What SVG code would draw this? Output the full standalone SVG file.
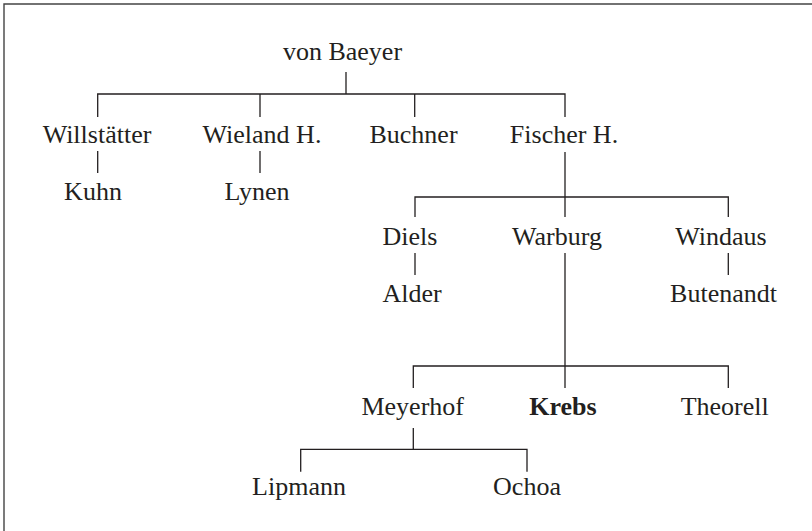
<svg xmlns="http://www.w3.org/2000/svg" width="812" height="531" viewBox="0 0 812 531">
<style>
text{font-family:"Liberation Serif","Times New Roman",serif;font-size:26px;fill:#231f20;text-anchor:middle}
.b{font-weight:bold}
.c path{fill:none;stroke:#231f20;stroke-width:1.3}
.frame{fill:none;stroke:#444;stroke-width:1.4}
</style>
<rect width="812" height="531" fill="#fff"/>
<path class="frame" d="M4,531 V4 H812"/>
<g class="c" id="connectors">
<path d="M346,72 V94"/>
<path d="M97.7,117 V94 H565 V117"/>
<path d="M260,94 V117"/>
<path d="M414.7,94 V117"/>
<path d="M97.7,151 V173"/>
<path d="M260,151 V173"/>
<path d="M565,152 V217"/>
<path d="M415,217 V197 H728.3 V217"/>
<path d="M415,253 V275"/>
<path d="M728.3,253 V275"/>
<path d="M565,253 V388"/>
<path d="M413.3,388 V366 H728.3 V388"/>
<path d="M413.3,428 V449.3"/>
<path d="M300.7,471.7 V449.3 H527 V471.7"/>
</g>
<g id="vonBaeyer"><text x="342.5" y="60">von Baeyer</text></g>
<g id="Willstaetter"><text x="97" y="143">Willstätter</text></g>
<g id="Wieland"><text x="262" y="143">Wieland H.</text></g>
<g id="Buchner"><text x="413.5" y="143">Buchner</text></g>
<g id="Fischer"><text x="564" y="143">Fischer H.</text></g>
<g id="Kuhn"><text x="93" y="200">Kuhn</text></g>
<g id="Lynen"><text x="257" y="200">Lynen</text></g>
<g id="Diels"><text x="410" y="245">Diels</text></g>
<g id="Warburg"><text x="557" y="245">Warburg</text></g>
<g id="Windaus"><text x="721" y="245">Windaus</text></g>
<g id="Alder"><text x="412" y="302">Alder</text></g>
<g id="Butenandt"><text x="723.5" y="302">Butenandt</text></g>
<g id="Meyerhof"><text x="412.7" y="415">Meyerhof</text></g>
<g id="Krebs"><text class="b" x="563" y="415">Krebs</text></g>
<g id="Theorell"><text x="724.7" y="415">Theorell</text></g>
<g id="Lipmann"><text x="299" y="495">Lipmann</text></g>
<g id="Ochoa"><text x="527" y="495">Ochoa</text></g>
</svg>
